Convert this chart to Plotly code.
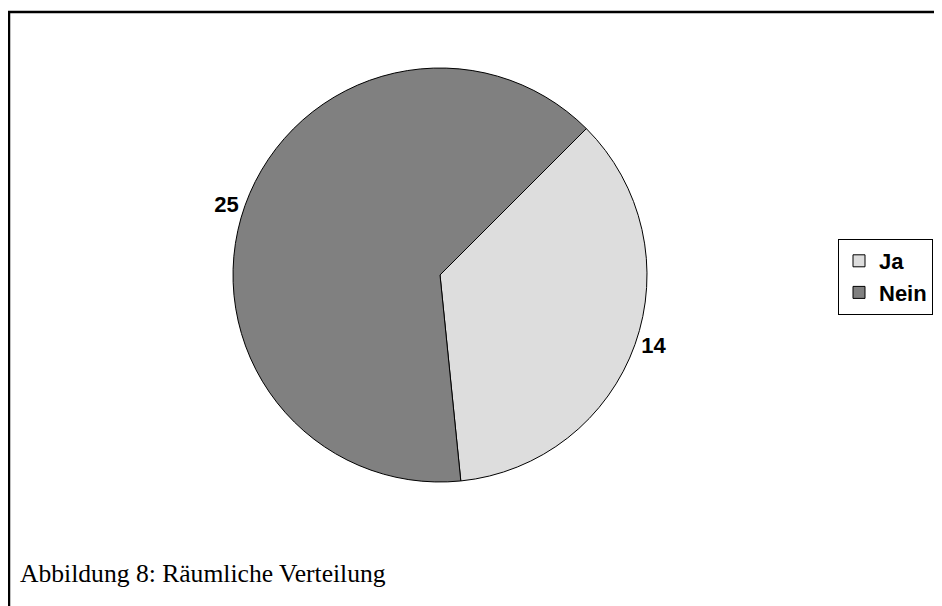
import plotly.graph_objects as go

labels = ["Ja", "Nein"]
values = [14, 25]
colors = ["#DDDDDD", "#808080"]
caption = "Abbildung 8: Räumliche Verteilung"

W, H = 942, 606
OFF = 8  # page body margin of the browser
cx, cy, r = 440 - OFF, 275 - OFF, 207

fig = go.Figure(go.Pie(
    labels=labels, values=values, sort=False, direction="clockwise", rotation=45,
    marker=dict(colors=colors, line=dict(color="black", width=1)),
    textinfo="value", textposition="outside",
    textfont=dict(family="Liberation Sans, Arial", size=22, color="black", weight="bold"),
    domain=dict(x=[(cx - r) / W, (cx + r) / W], y=[(H - cy - r) / H, (H - cy + r) / H]),
    hoverinfo="label+value",
))

fig.update_layout(
    width=W, height=H, margin=dict(l=0, r=0, t=0, b=0),
    paper_bgcolor="white", plot_bgcolor="white",
    showlegend=True,
    legend=dict(x=(838 - OFF) / W, y=1 - (239 - OFF) / H, xanchor="left", yanchor="top",
                bordercolor="black", borderwidth=1, bgcolor="white",
                font=dict(family="Liberation Sans, Arial", size=22, color="black", weight="bold"),
                tracegroupgap=0),
    shapes=[dict(type="rect", xref="paper", yref="paper",
                 x0=(9 - OFF) / W, x1=1.05, y0=-0.05, y1=1 - (12 - OFF) / H,
                 line=dict(color="black", width=2.5), fillcolor="rgba(0,0,0,0)")],
    annotations=[dict(text=caption, xref="paper", yref="paper",
                      x=(18 - OFF) / W, y=1 - (573 - OFF) / H,
                      xanchor="left", yanchor="middle", showarrow=False,
                      font=dict(family="Liberation Serif, Times New Roman", size=25.6, color="black"))],
)

fig.write_html("out.html")
